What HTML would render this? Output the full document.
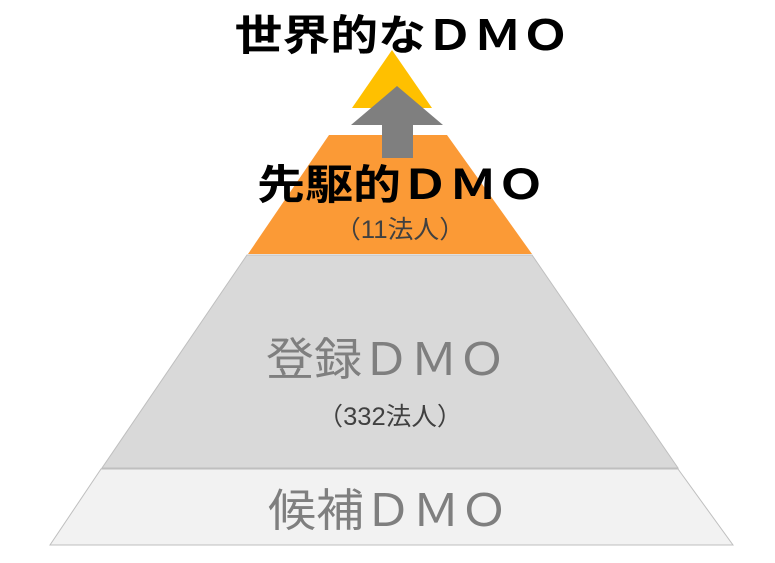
<!DOCTYPE html>
<html><head><meta charset="utf-8"><style>
html,body{margin:0;padding:0;background:#fff;}
svg{display:block;}
text{font-family:"Liberation Sans","Noto Sans CJK JP",sans-serif;}
</style></head><body>
<svg width="775" height="563" viewBox="0 0 775 563" xmlns="http://www.w3.org/2000/svg">
<polygon points="101,469 678,469 733,545 50,545" fill="#f2f2f2" stroke="#bfbfbf" stroke-width="1"/>
<polygon points="247,255 532,255 678,468 102,468" fill="#d9d9d9" stroke="#bfbfbf" stroke-width="1"/>
<polygon points="329,135 447,135 532,254 248,254" fill="#fb9a36"/>
<polygon points="392,50 432,108 352,108" fill="#ffc000"/>
<polygon points="397,86 443,125 413,125 413,158 382,158 382,125 351,125" fill="#7f7f7f"/>
<text x="402" y="50" font-size="42" font-weight="bold" text-anchor="middle" textLength="335" lengthAdjust="spacingAndGlyphs" fill="#000">世界的なＤＭＯ</text>
<text x="401" y="199" font-size="41" font-weight="bold" text-anchor="middle" textLength="288" lengthAdjust="spacingAndGlyphs" fill="#000">先駆的ＤＭＯ</text>
<text x="400" y="238" font-size="25" text-anchor="middle" textLength="130" lengthAdjust="spacingAndGlyphs" fill="#404040">（11法人）</text>
<text x="386" y="375" font-size="45" text-anchor="middle" textLength="240" lengthAdjust="spacingAndGlyphs" fill="#7f7f7f">登録ＤＭＯ</text>
<text x="390" y="425" font-size="25" text-anchor="middle" textLength="145" lengthAdjust="spacingAndGlyphs" fill="#404040">（332法人）</text>
<text x="388" y="526" font-size="45" text-anchor="middle" textLength="240" lengthAdjust="spacingAndGlyphs" fill="#7f7f7f">候補ＤＭＯ</text>
</svg>
</body></html>
